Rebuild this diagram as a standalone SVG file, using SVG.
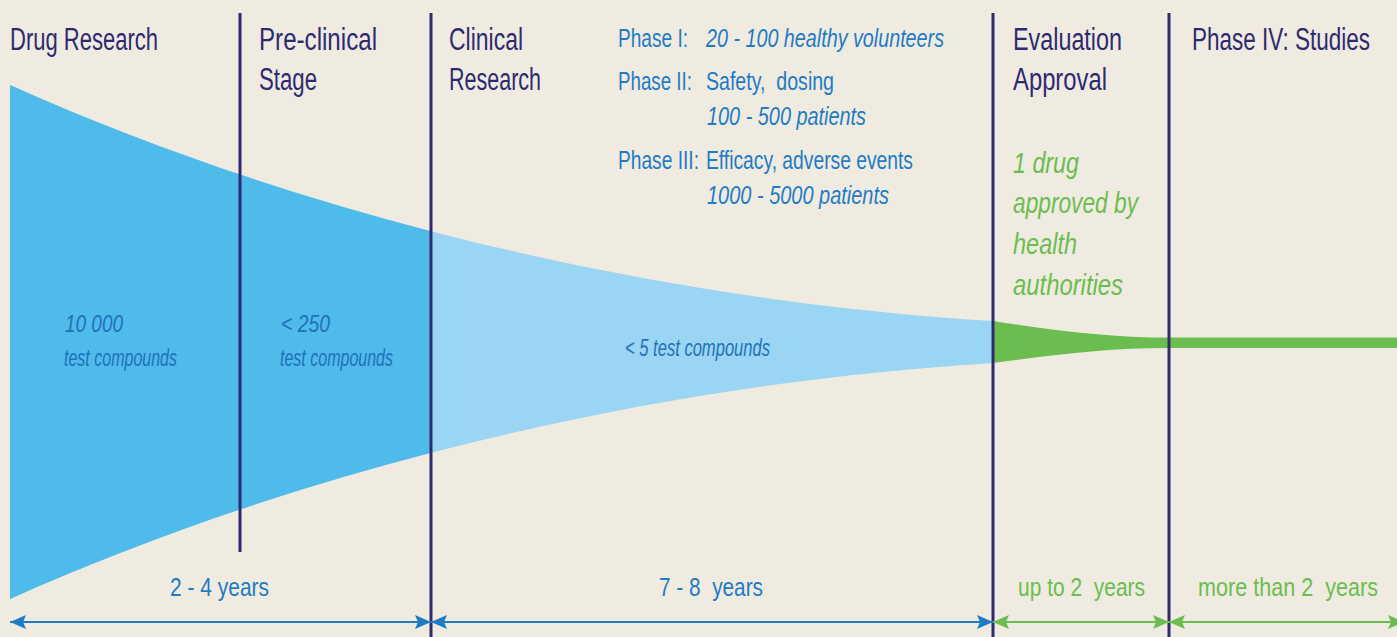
<svg xmlns="http://www.w3.org/2000/svg" width="1397" height="637" viewBox="0 0 1397 637">
  <style>
    .hd { font-family: "Liberation Sans Narrow", "Liberation Sans", Arial, sans-serif; font-size: 31px; fill: #2e2a70; }
    .ph { font-family: "Liberation Sans Narrow", "Liberation Sans", Arial, sans-serif; font-size: 26px; fill: #1f7bc4; }
    .it { font-style: italic; }
    .end { text-anchor: end; }
    .gr { font-family: "Liberation Sans Narrow", "Liberation Sans", Arial, sans-serif; font-size: 29px; fill: #6cbd4f; font-style: italic; }
    .fn { font-family: "Liberation Sans Narrow", "Liberation Sans", Arial, sans-serif; font-size: 23px; fill: #2271b8; font-style: italic; }
    .dur { font-family: "Liberation Sans Narrow", "Liberation Sans", Arial, sans-serif; font-size: 26px; }
    .divider { stroke: #2e2a70; stroke-width: 3; fill: none; }
    .span-blue { stroke: #1d7cc4; stroke-width: 2; fill: none; marker-start: url(#headBlue); marker-end: url(#headBlue); }
    .span-green { stroke: #6cbd4f; stroke-width: 2; fill: none; marker-start: url(#headGreen); marker-end: url(#headGreen); }
  </style>
  <defs>
    <marker id="headBlue" markerUnits="userSpaceOnUse" markerWidth="16" markerHeight="14" refX="16" refY="7" orient="auto-start-reverse" viewBox="0 0 16 14">
      <path d="M0,0 L16,7 L0,14 L3,7 Z" fill="#1d7cc4"/>
    </marker>
    <marker id="headGreen" markerUnits="userSpaceOnUse" markerWidth="16" markerHeight="14" refX="16" refY="7" orient="auto-start-reverse" viewBox="0 0 16 14">
      <path d="M0,0 L16,7 L0,14 L3,7 Z" fill="#6cbd4f"/>
    </marker>
    <clipPath id="earlyStages">
      <rect x="0" y="0" width="431" height="637"/>
    </clipPath>
  </defs>

  <rect x="0" y="0" width="1397" height="637" fill="#efebe1"/>

  <!-- attrition funnel -->
  <g id="funnel">
    <path d="M10,85 C300,215 650,300 993,321 L993,363 C650,384 300,469 10,599 Z" fill="#9ad5f3"/>
    <path d="M10,85 C300,215 650,300 993,321 L993,363 C650,384 300,469 10,599 Z" fill="#4ebbeb" clip-path="url(#earlyStages)"/>
    <path d="M993,321 C1060,331 1110,337.5 1169,337.5 L1397,337.5 L1397,348 L1169,348 C1110,348 1060,354 993,363 Z" fill="#6cbd4f"/>
  </g>

  <!-- stage dividers -->
  <g id="dividers">
    <line class="divider" x1="240" y1="13" x2="240" y2="552"/>
    <line class="divider" x1="431" y1="13" x2="431" y2="637"/>
    <line class="divider" x1="993" y1="13" x2="993" y2="637"/>
    <line class="divider" x1="1169" y1="13" x2="1169" y2="637"/>
  </g>

  <g id="drug-research">
    <text class="hd" x="10" y="50" textLength="148" lengthAdjust="spacingAndGlyphs">Drug Research</text>
    <text class="fn" x="65" y="332" textLength="58" lengthAdjust="spacingAndGlyphs">10 000</text>
    <text class="fn" x="64" y="366" textLength="113" lengthAdjust="spacingAndGlyphs">test compounds</text>
  </g>

  <g id="pre-clinical">
    <text class="hd" x="259" y="50" textLength="118" lengthAdjust="spacingAndGlyphs">Pre-clinical</text>
    <text class="hd" x="259" y="90" textLength="58" lengthAdjust="spacingAndGlyphs">Stage</text>
    <text class="fn" x="281" y="332" textLength="49" lengthAdjust="spacingAndGlyphs">&lt; 250</text>
    <text class="fn" x="280" y="366" textLength="113" lengthAdjust="spacingAndGlyphs">test compounds</text>
  </g>

  <g id="clinical-research">
    <text class="hd" x="449" y="50" textLength="74" lengthAdjust="spacingAndGlyphs">Clinical</text>
    <text class="hd" x="449" y="90" textLength="92" lengthAdjust="spacingAndGlyphs">Research</text>
    <text class="ph end" x="688" y="47" textLength="70" lengthAdjust="spacingAndGlyphs">Phase I:</text>
    <text class="ph it" x="706" y="47" textLength="238" lengthAdjust="spacingAndGlyphs">20 - 100 healthy volunteers</text>
    <text class="ph end" x="692" y="90" textLength="74" lengthAdjust="spacingAndGlyphs">Phase II:</text>
    <text class="ph" x="706" y="90" textLength="128" lengthAdjust="spacingAndGlyphs">Safety,&#160; dosing</text>
    <text class="ph it" x="707" y="125" textLength="159" lengthAdjust="spacingAndGlyphs">100 - 500 patients</text>
    <text class="ph end" x="699" y="169" textLength="81" lengthAdjust="spacingAndGlyphs">Phase III:</text>
    <text class="ph" x="706" y="169" textLength="207" lengthAdjust="spacingAndGlyphs">Efficacy, adverse events</text>
    <text class="ph it" x="707" y="204" textLength="182" lengthAdjust="spacingAndGlyphs">1000 - 5000 patients</text>
    <text class="fn" x="625" y="356" textLength="145" lengthAdjust="spacingAndGlyphs">&lt; 5 test compounds</text>
  </g>

  <g id="evaluation-approval">
    <text class="hd" x="1013" y="50" textLength="109" lengthAdjust="spacingAndGlyphs">Evaluation</text>
    <text class="hd" x="1013" y="90" textLength="94" lengthAdjust="spacingAndGlyphs">Approval</text>
    <text class="gr" x="1013" y="173" textLength="66" lengthAdjust="spacingAndGlyphs">1 drug</text>
    <text class="gr" x="1013" y="213" textLength="125" lengthAdjust="spacingAndGlyphs">approved by</text>
    <text class="gr" x="1013" y="254" textLength="64" lengthAdjust="spacingAndGlyphs">health</text>
    <text class="gr" x="1013" y="295" textLength="110" lengthAdjust="spacingAndGlyphs">authorities</text>
  </g>

  <g id="phase-iv">
    <text class="hd end" x="1370" y="50" textLength="178" lengthAdjust="spacingAndGlyphs">Phase IV: Studies</text>
  </g>

  <!-- duration spans -->
  <g id="connectors">
    <line class="span-blue" x1="10" y1="622" x2="431" y2="622"/>
    <line class="span-blue" x1="431" y1="622" x2="993" y2="622"/>
    <line class="span-green" x1="993" y1="622" x2="1169" y2="622"/>
    <line class="span-green" x1="1169" y1="622" x2="1404" y2="622"/>
  </g>

  <g id="durations">
    <text class="dur" x="170" y="596" fill="#1f7bc4" textLength="99" lengthAdjust="spacingAndGlyphs">2 - 4 years</text>
    <text class="dur" x="659" y="596" fill="#1f7bc4" textLength="104" lengthAdjust="spacingAndGlyphs">7 - 8&#160; years</text>
    <text class="dur" x="1018" y="596" fill="#6cbd4f" textLength="127" lengthAdjust="spacingAndGlyphs">up to 2&#160; years</text>
    <text class="dur end" x="1378" y="596" fill="#6cbd4f" textLength="180" lengthAdjust="spacingAndGlyphs">more than 2&#160; years</text>
  </g>
</svg>
